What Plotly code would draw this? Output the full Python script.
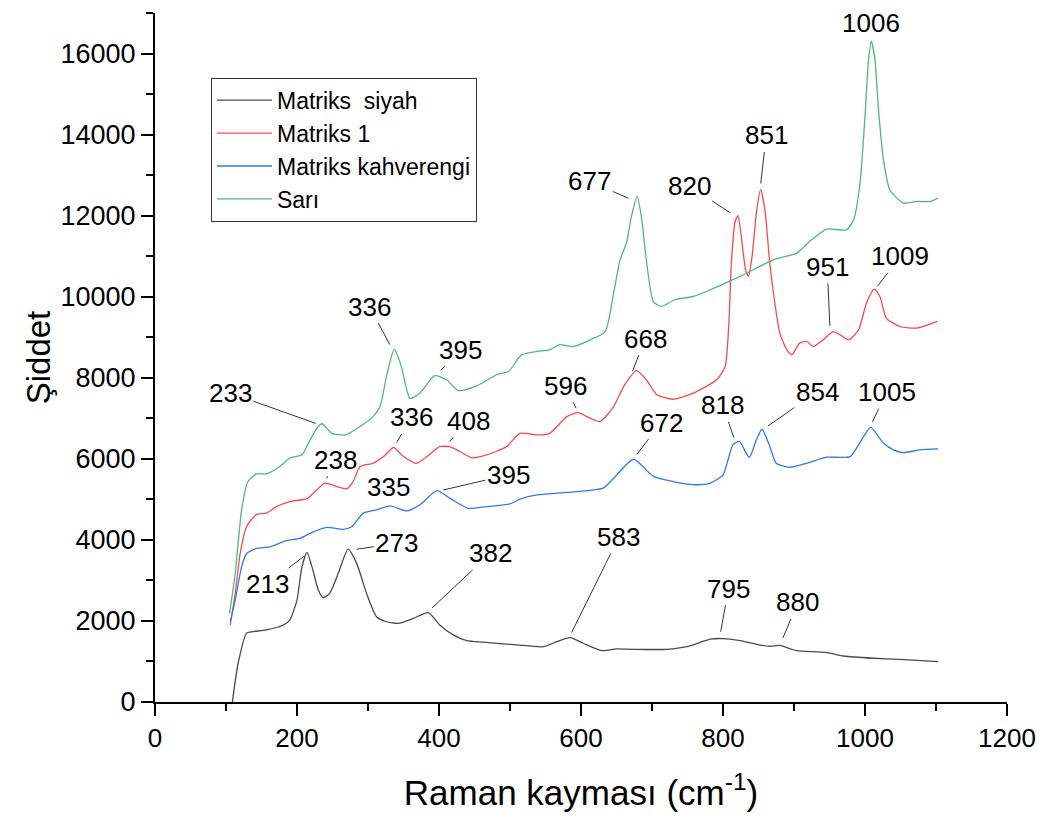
import numpy as np
import plotly.graph_objects as go

# Raman spektrumlari
siyah_x = [109, 117, 129, 138, 157, 181, 190, 200, 207, 214, 221, 230, 237, 246, 258, 272, 284, 298, 312, 326,
           343, 364, 385, 401, 420, 439, 462, 509, 547, 566, 585, 603, 629, 650, 674, 721, 749, 782, 800, 824,
           852, 866, 880, 895, 904, 946, 970, 1012, 1049, 1103]
siyah_y = [0, 950, 1700, 1735, 1780, 1900, 2025, 2520, 3340, 3690, 3340, 2765, 2575, 2680, 3170, 3770, 3420, 2680, 2105, 1980,
           1940, 2065, 2205, 1900, 1655, 1515, 1475, 1410, 1365, 1490, 1590, 1450, 1270, 1310, 1300, 1300, 1365, 1550, 1565, 1515,
           1405, 1375, 1395, 1310, 1265, 1220, 1135, 1080, 1050, 995]

m1_x = [106, 113, 120, 129, 143, 157, 171, 190, 214, 228, 239, 256, 270, 279, 289, 307, 322, 336, 350, 368,
        383, 401, 415, 430, 446, 467, 495, 514, 538, 556, 580, 596, 613, 627, 646, 660, 678, 692, 707, 730,
        758, 791, 803, 808, 812, 817, 821, 826, 832, 836, 841, 847, 853, 859, 866, 871, 880, 890, 897, 908,
        918, 927, 941, 955, 965, 977, 991, 1002, 1013, 1021, 1030, 1049, 1073, 1102]
m1_y = [1900, 2680, 3670, 4330, 4630, 4660, 4820, 4945, 5020, 5235, 5400, 5315, 5260, 5440, 5810, 5890, 6055, 6280, 6055, 5890,
        6055, 6300, 6300, 6175, 6025, 6095, 6300, 6630, 6590, 6630, 7040, 7140, 7000, 6920, 7290, 7780, 8175, 7950, 7580, 7470,
        7620, 7950, 8280, 9265, 10910, 11850, 12000, 11450, 10650, 10500, 11000, 12065, 12640, 12150, 10800, 10100, 9100, 8690, 8570, 8855,
        8895, 8770, 8935, 9140, 9060, 8935, 9185, 9840, 10185, 10005, 9470, 9265, 9225, 9390]

kahve_x = [106, 113, 122, 129, 143, 162, 185, 204, 223, 242, 265, 277, 293, 312, 331, 355, 373, 397, 415, 441,
           467, 500, 514, 538, 580, 631, 646, 674, 702, 730, 763, 782, 800, 807, 814, 823, 837, 847, 855, 866,
           875, 894, 918, 946, 979, 998, 1008, 1026, 1040, 1054, 1077, 1103]
kahve_y = [1985, 2520, 3340, 3665, 3790, 3830, 3980, 4035, 4200, 4310, 4260, 4325, 4655, 4740, 4840, 4715, 4865, 5215, 5030, 4780,
           4820, 4890, 5005, 5110, 5170, 5275, 5520, 5990, 5565, 5440, 5360, 5400, 5605, 5975, 6345, 6430, 6035, 6470, 6730, 6300,
           5890, 5790, 5890, 6040, 6055, 6550, 6775, 6390, 6220, 6155, 6220, 6245]

sari_x = [105, 113, 122, 131, 143, 157, 176, 190, 207, 216, 228, 235, 249, 268, 289, 307, 317, 326, 337, 347,
          359, 373, 394, 411, 427, 453, 481, 498, 516, 538, 556, 570, 589, 613, 634, 646, 655, 664, 671, 679,
          685, 692, 702, 713, 732, 758, 782, 824, 871, 904, 922, 946, 974, 984, 993, 1000, 1005, 1009, 1014, 1019,
          1026, 1035, 1054, 1073, 1092, 1103]
sari_y = [2190, 3175, 4740, 5440, 5630, 5630, 5810, 6020, 6100, 6385, 6755, 6865, 6630, 6590, 6800, 7040, 7290, 8030, 8705, 8280,
          7495, 7620, 8050, 7950, 7685, 7800, 8075, 8155, 8565, 8650, 8690, 8815, 8770, 8935, 9140, 10090, 10910, 11325, 11980, 12475,
          11980, 10910, 9880, 9760, 9925, 10005, 10170, 10500, 10910, 11075, 11365, 11670, 11650, 11900, 12805, 14450, 15850, 16300, 15850, 14615,
          13380, 12640, 12310, 12350, 12350, 12435]

series = [
    ("siyah", "Matriks  siyah", siyah_x, siyah_y, "#4a4a4a"),
    ("m1", "Matriks 1", m1_x, m1_y, "#f64a4a"),
    ("kahve", "Matriks kahverengi", kahve_x, kahve_y, "#2f7be6"),
    ("sari", "Sarı", sari_x, sari_y, "#4fb87c"),
]

# pik etiketleri: (seri, etiket, metin kaymasi x, y (px), bosluk; None = cizgisiz)
peaks = [
    ("sari", 233, -90, -32, 5), ("sari", 336, -24, -45, 8), ("sari", 395, 25, -26, 8),
    ("sari", 677, -46, -20, 8), ("sari", 1006, 2, -32, None),
    ("m1", 238, 12, -24, 6), ("m1", 336, 18, -30, 6), ("m1", 408, 24, -26, 7),
    ("m1", 596, -13, -27, 5), ("m1", 668, 16, -41, 9), ("m1", 820, -48, -31, 8),
    ("m1", 851, 7, -62, 14), ("m1", 951, -3, -67, 8), ("m1", 1009, 29, -38, 10),
    ("kahve", 335, -4, -20, None), ("kahve", 395, 73, -17, 8), ("kahve", 672, 29, -38, 8),
    ("kahve", 818, -13, -38, 6), ("kahve", 854, 56, -39, 8), ("kahve", 1005, 18, -38, 9),
    ("siyah", 213, -39, 30, 3), ("siyah", 273, 48, -7, 8), ("siyah", 382, 64, -60, 8),
    ("siyah", 583, 50, -101, 6), ("siyah", 795, 9, -50, 7), ("siyah", 880, 18, -43, 8),
]

FONT = "Liberation Sans, Arial, sans-serif"

fig = go.Figure()
data = {}
for key, name, xs, ys, color in series:
    data[key] = (xs, ys)
    fig.add_trace(go.Scatter(x=xs, y=ys, mode="lines", name=name,
                             line=dict(color=color, width=1.3, shape="spline", smoothing=0.6)))

for key, lab, dx, dy, gap in peaks:
    xs, ys = data[key]
    yv = float(np.interp(lab, xs, ys))
    fig.add_annotation(
        x=lab, y=yv, text=str(lab), showarrow=True, arrowhead=0,
        ax=dx, ay=dy, arrowwidth=1,
        arrowcolor="#333333" if gap is not None else "rgba(0,0,0,0)",
        standoff=gap or 0, font=dict(family=FONT, size=26, color="black"),
    )

fig.update_layout(
    width=1047, height=823,
    margin=dict(l=147, r=48, t=5, b=129),
    paper_bgcolor="white", plot_bgcolor="white",
    font=dict(family=FONT, color="black"),
    showlegend=True,
    legend=dict(x=0.0657, y=0.906, xanchor="left", yanchor="top",
                bordercolor="#333333", borderwidth=1, bgcolor="white",
                font=dict(size=23), tracegroupgap=0, itemwidth=55),
)
fig.update_xaxes(
    range=[0, 1200], tickvals=list(range(0, 1201, 200)),
    showgrid=False, zeroline=False, showline=True, linecolor="black", linewidth=2,
    ticks="outside", ticklen=12, tickwidth=2, tickcolor="black",
    minor=dict(dtick=100, ticks="outside", ticklen=7, tickwidth=2, tickcolor="black"),
    tickfont=dict(size=26), automargin=False,
    title=dict(text="Raman kayması (cm<sup>-1</sup>)", font=dict(size=35), standoff=28),
)
fig.update_yaxes(
    range=[0, 17000], tickvals=list(range(0, 16001, 2000)), tickformat="d",
    showgrid=False, zeroline=False, showline=True, linecolor="black", linewidth=2,
    ticks="outside", ticklen=12, tickwidth=2, tickcolor="black",
    minor=dict(dtick=1000, ticks="outside", ticklen=7, tickwidth=2, tickcolor="black"),
    tickfont=dict(size=27), automargin=False,
    title=dict(text="Şiddet", font=dict(size=33), standoff=0),
)

fig.write_html("out.html")
